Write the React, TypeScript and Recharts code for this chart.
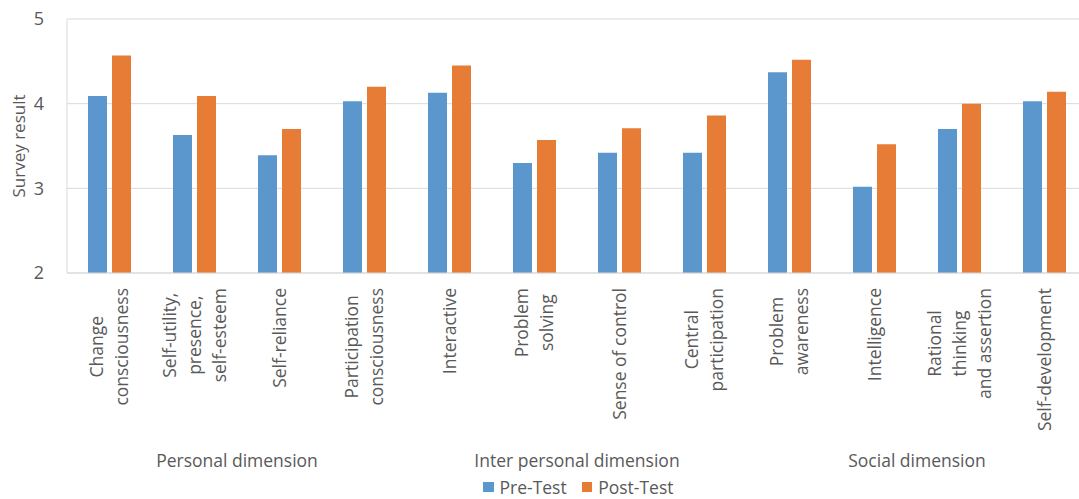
import { BarChart, Bar, XAxis, YAxis, CartesianGrid, Legend } from 'recharts';

const categories = [
  'Change consciousness',
  'Self-utility, presence, self-esteem',
  'Self-reliance',
  'Participation consciousness',
  'Interactive',
  'Problem solving',
  'Sense of control',
  'Central participation',
  'Problem awareness',
  'Intelligence',
  'Rational thinking and assertion',
  'Self-development',
];

// how each category label is broken into lines
const tickLabels = [
  ['Change', 'consciousness'],
  ['Self-utility,', 'presence,', 'self-esteem'],
  ['Self-reliance'],
  ['Participation', 'consciousness'],
  ['Interactive'],
  ['Problem', 'solving'],
  ['Sense of control'],
  ['Central', 'participation'],
  ['Problem', 'awareness'],
  ['Intelligence'],
  ['Rational', 'thinking', 'and assertion'],
  ['Self-development'],
];

const dimensions = [
  'Personal dimension', 'Personal dimension', 'Personal dimension', 'Personal dimension',
  'Inter personal dimension', 'Inter personal dimension', 'Inter personal dimension', 'Inter personal dimension',
  'Social dimension', 'Social dimension', 'Social dimension', 'Social dimension',
];

const preTest = [4.09, 3.63, 3.39, 4.03, 4.13, 3.3, 3.42, 3.42, 4.37, 3.02, 3.7, 4.03];
const postTest = [4.57, 4.09, 3.7, 4.2, 4.45, 3.57, 3.71, 3.86, 4.52, 3.52, 4.0, 4.14];

const yTicks = [2, 3, 4, 5];

const data = categories.map((c, i) => ({
  category: c,
  dimension: dimensions[i],
  pre: preTest[i],
  post: postTest[i],
}));

const BLUE = '#5B96CC';
const ORANGE = '#E67C35';
const TEXT = '#595959';
const GRID = '#D9D9D9';
const FONT = '"Open Sans", sans-serif';
const FS = 17.5;
const LINE_H = 25;

let ctx: CanvasRenderingContext2D | null = null;
const measure = (s: string) => {
  if (!ctx) {
    ctx = document.createElement('canvas').getContext('2d');
  }
  if (!ctx) return s.length * FS * 0.55;
  ctx.font = `${FS}px "Open Sans"`;
  return ctx.measureText(s).width;
};

const CategoryTick = (props: any) => {
  const { x, y, payload } = props;
  const idx = categories.indexOf(payload.value);
  const lines = tickLabels[idx] || [payload.value];
  const maxW = Math.max(...lines.map(measure));
  const first = -((lines.length - 1) / 2) * LINE_H + FS * 0.36;
  return (
    <g transform={`translate(${x},${y + 7})`}>
      <text transform="rotate(-90)" textAnchor="middle" fill={TEXT} fontSize={FS} fontFamily={FONT}>
        {lines.map((l, i) => (
          <tspan key={i} x={-maxW / 2} dy={i === 0 ? first : LINE_H}>
            {l}
          </tspan>
        ))}
      </text>
    </g>
  );
};

const DimensionTick = (props: any) => {
  const { x, y, payload } = props;
  return (
    <text x={x} y={y + 19} textAnchor="middle" fill={TEXT} fontSize={FS} fontFamily={FONT}>
      {payload.value}
    </text>
  );
};

const renderLegend = () => (
  <div
    style={{
      display: 'flex',
      alignItems: 'center',
      height: 24,
      paddingLeft: 483,
      fontFamily: FONT,
      fontSize: FS,
      color: TEXT,
    }}
  >
    <span style={{ width: 10.5, height: 10.5, background: BLUE, display: 'inline-block', marginRight: 6 }} />
    <span style={{ marginRight: 15 }}>Pre-Test</span>
    <span style={{ width: 10.5, height: 10.5, background: ORANGE, display: 'inline-block', marginRight: 6 }} />
    <span>Post-Test</span>
  </div>
);

export default function App() {
  return (
    <div style={{ position: 'fixed', left: 0, top: 0, width: 1079, height: 499, overflow: 'hidden', background: '#fff' }}>
      <BarChart
        width={1090}
        height={499}
        data={data}
        margin={{ top: 19, right: 3, left: 0, bottom: 0 }}
        barGap={5}
        barSize={19}
      >
        <CartesianGrid vertical={false} stroke={GRID} />
        <XAxis
          dataKey="category"
          interval={0}
          height={167}
          tickLine={false}
          axisLine={{ stroke: GRID }}
          tick={<CategoryTick />}
        />
        <XAxis
          xAxisId="dim"
          dataKey="dimension"
          allowDuplicatedCategory={false}
          interval={0}
          height={35}
          tickLine={false}
          axisLine={false}
          tick={<DimensionTick />}
        />
        <YAxis
          width={67}
          domain={[2, 5]}
          ticks={yTicks}
          allowDataOverflow
          tickLine={false}
          axisLine={{ stroke: GRID }}
          tickMargin={17}
          tick={{ fill: TEXT, fontSize: 18, fontFamily: FONT }}
          label={({ viewBox }: any) => (
            <text
              x={18}
              y={viewBox.y + viewBox.height / 2}
              transform={`rotate(-90, 18, ${viewBox.y + viewBox.height / 2})`}
              textAnchor="middle"
              dominantBaseline="central"
              fill={TEXT}
              fontSize={17}
              fontFamily={FONT}
            >
              Survey result
            </text>
          )}
        />
        <Legend verticalAlign="bottom" height={24} content={renderLegend} />
        <Bar dataKey="pre" name="Pre-Test" fill={BLUE} isAnimationActive={false} />
        <Bar dataKey="post" name="Post-Test" fill={ORANGE} isAnimationActive={false} />
      </BarChart>
    </div>
  );
}
